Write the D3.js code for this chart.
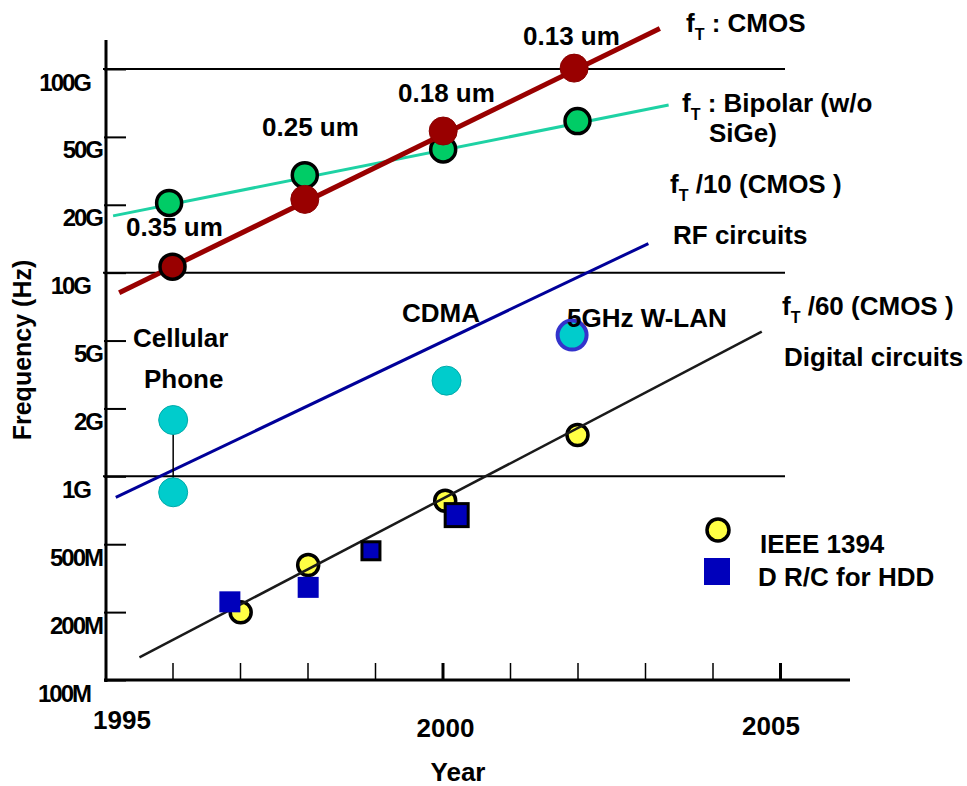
<!DOCTYPE html>
<html>
<head>
<meta charset="utf-8">
<script src="https://cdn.jsdelivr.net/npm/d3@7"></script>
<style>
  body { margin: 0; background: #ffffff; }
  svg text { font-family: "Liberation Sans", Arial, Helvetica, sans-serif; font-weight: bold; fill: #000; }
</style>
</head>
<body>
<svg id="chart" width="967" height="786"></svg>
<script>
// ---------------- DATA ----------------
const yTickLabels = ["100M", "200M", "500M", "1G", "2G", "5G", "10G", "20G", "50G", "100G"];
const gridFreqs = [1e9, 1e10, 1e11];
const xTickYears = [1996, 1997, 1998, 1999, 2000, 2001, 2002, 2003, 2004, 2005];
const xLabelYears = [1995, 2000, 2005];

// fT : CMOS
const cmosNodes = ["0.35 um", "0.25 um", "0.18 um", "0.13 um"];
const cmosYears = [1996.0, 1997.96, 2000.01, 2001.95];
const cmosFt = [10.7e9, 22.9e9, 49.6e9, 101e9];
const cmosTrendYears = [1995.21, 2003.22];
const cmosTrendFt = [7.97e9, 158e9];

// fT : Bipolar (w/o SiGe)
const bipolarYears = [1995.95, 1997.96, 2000.01, 2002.0];
const bipolarFt = [22.0e9, 30.1e9, 40.3e9, 55.5e9];
const bipolarTrendYears = [1995.12, 2003.35];
const bipolarTrendFt = [19.0e9, 66.5e9];

// fT/10 (CMOS) RF circuits
const rfTrendYears = [1995.16, 2003.05];
const rfTrendFreq = [0.788e9, 13.9e9];

// fT/60 (CMOS) Digital circuits
const digitalTrendYears = [1995.51, 2004.73];
const digitalTrendFreq = [0.129e9, 5.13e9];

// IEEE 1394
const ieeeYears = [1997.01, 1998.01, 2000.04, 2002.0];
const ieeeFreq = [0.215e9, 0.367e9, 0.759e9, 1.596e9];

// D R/C for HDD
const hddYears = [1996.85, 1998.01, 1998.94, 2000.21];
const hddFreq = [0.242e9, 0.285e9, 0.431e9, 0.645e9];

// Wireless applications
const cellularYears = [1996.01, 1996.01];
const cellularFreq = [1.89e9, 0.835e9];
const cdmaYear = [2000.06];
const cdmaFreq = [2.95e9];
const wlanYear = [2001.92];
const wlanFreq = [4.94e9];

// ---------------- CHART ----------------
const svg = d3.select("#chart");
const FONT = 26;

const x = d3.scaleLinear().domain([1995, 2005]).range([105, 780]);
const y = d3.scaleLog().domain([1e8, 1e11]).range([680, 69]);

// tick positions: evenly spaced thirds of a decade (as in the original slide)
const yTickVals = yTickLabels.map((d, i) => Math.pow(10, 8 + i / 3));

// gridlines
svg.append("g").selectAll("line").data(gridFreqs).join("line")
  .attr("x1", 103).attr("x2", 785)
  .attr("y1", d => y(d)).attr("y2", d => y(d))
  .attr("stroke", "#000").attr("stroke-width", 2);

// Y axis ticks + labels
const yAxis = d3.axisLeft(y).tickValues(yTickVals).tickSizeInner(-20).tickSizeOuter(0)
  .tickFormat((d, i) => yTickLabels[i]);
const gy = svg.append("g").attr("transform", "translate(106,0)").call(yAxis);
gy.select(".domain").remove();
gy.selectAll(".tick line").attr("stroke", "#000").attr("stroke-width", 2).attr("x1", -2);
gy.selectAll(".tick text")
  .attr("x", (d, i) => (i % 3 === 0 ? -16 : -4))
  .attr("dy", null)
  .attr("y", 21)
  .style("font-size", "24px")
  .style("letter-spacing", "-2px")
  .style("font-family", "'Liberation Sans', Arial, sans-serif")
  .style("font-weight", "bold")
  .attr("fill", "#000");

// X axis ticks
const xAxis = d3.axisBottom(x).tickValues(xTickYears).tickSizeInner(-17).tickSizeOuter(0).tickFormat("");
const gx = svg.append("g").attr("transform", "translate(0,680)").call(xAxis);
gx.select(".domain").remove();
gx.selectAll(".tick line").attr("stroke", "#000")
  .attr("stroke-width", d => (d % 5 === 0 ? 3 : 1.5));

// Axis lines
svg.append("line").attr("x1", 106).attr("x2", 106).attr("y1", 40).attr("y2", 682)
  .attr("stroke", "#000").attr("stroke-width", 3);
svg.append("line").attr("x1", 104).attr("x2", 850).attr("y1", 680).attr("y2", 680)
  .attr("stroke", "#000").attr("stroke-width", 3);

// X labels
const xLabelNudge = { 1995: [17, 49], 2000: [3, 57], 2005: [-9, 55] };
svg.append("g").selectAll("text").data(xLabelYears).join("text")
  .attr("x", d => x(d) + xLabelNudge[d][0])
  .attr("y", d => 680 + xLabelNudge[d][1])
  .attr("text-anchor", "middle")
  .style("font-size", FONT + "px")
  .text(d => d);

// Axis titles
svg.append("text").attr("x", 458).attr("y", 781).attr("text-anchor", "middle")
  .style("font-size", FONT + "px").text("Year");
svg.append("text").attr("transform", "translate(31,350) rotate(-90)").attr("text-anchor", "middle")
  .style("font-size", "25px").text("Frequency (Hz)");

const line = d3.line().x(d => x(d[0])).y(d => y(d[1]));
const zip = (a, b) => a.map((v, i) => [v, b[i]]);

// Trend lines
svg.append("path").datum(zip(bipolarTrendYears, bipolarTrendFt)).attr("d", line)
  .attr("stroke", "#1ed2a4").attr("stroke-width", 3).attr("fill", "none");
svg.append("path").datum(zip(rfTrendYears, rfTrendFreq)).attr("d", line)
  .attr("stroke", "#000099").attr("stroke-width", 3).attr("fill", "none");

// Bipolar circles
svg.append("g").selectAll("circle").data(zip(bipolarYears, bipolarFt)).join("circle")
  .attr("cx", d => x(d[0])).attr("cy", d => y(d[1])).attr("r", 12.5)
  .attr("fill", "#00cc66").attr("stroke", "#000").attr("stroke-width", 3.5);

svg.append("path").datum(zip(cmosTrendYears, cmosTrendFt)).attr("d", line)
  .attr("stroke", "#990000").attr("stroke-width", 5).attr("fill", "none");

// CMOS circles
svg.append("g").selectAll("circle").data(zip(cmosYears, cmosFt)).join("circle")
  .attr("cx", d => x(d[0])).attr("cy", d => y(d[1]))
  .attr("r", (d, i) => (i === 0 ? 12.5 : 14))
  .attr("fill", "#990000")
  .attr("stroke", (d, i) => (i === 0 ? "#000" : "#8a0000"))
  .attr("stroke-width", (d, i) => (i === 0 ? 3.5 : 1));

// CMOS node labels
const nodeLabelPos = [[126, 236], [262, 136], [398, 102], [523, 45]];
svg.append("g").selectAll("text").data(cmosNodes).join("text")
  .attr("x", (d, i) => nodeLabelPos[i][0]).attr("y", (d, i) => nodeLabelPos[i][1])
  .style("font-size", FONT + "px").text(d => d);

// Cellular connector + wireless circles
svg.append("line")
  .attr("x1", x(cellularYears[0])).attr("x2", x(cellularYears[1]))
  .attr("y1", y(cellularFreq[0])).attr("y2", y(cellularFreq[1]))
  .attr("stroke", "#000").attr("stroke-width", 1.5);
svg.append("g").selectAll("circle").data(zip(cellularYears, cellularFreq).concat(zip(cdmaYear, cdmaFreq))).join("circle")
  .attr("cx", d => x(d[0])).attr("cy", d => y(d[1])).attr("r", 14.5)
  .attr("fill", "#00cccc").attr("stroke", "#00aaaa").attr("stroke-width", 1);
svg.append("g").selectAll("circle").data(zip(wlanYear, wlanFreq)).join("circle")
  .attr("cx", d => x(d[0])).attr("cy", d => y(d[1])).attr("r", 14.5)
  .attr("fill", "#00cccc").attr("stroke", "#3333cc").attr("stroke-width", 4);

// IEEE 1394 circles
svg.append("g").selectAll("circle").data(zip(ieeeYears, ieeeFreq)).join("circle")
  .attr("cx", d => x(d[0])).attr("cy", d => y(d[1])).attr("r", 10.5)
  .attr("fill", "#ffff44").attr("stroke", "#000").attr("stroke-width", 3.5);

// Digital trend line
svg.append("path").datum(zip(digitalTrendYears, digitalTrendFreq)).attr("d", line)
  .attr("stroke", "#1a1a1a").attr("stroke-width", 2.5).attr("fill", "none");

// HDD squares
const hddSize = [21, 21, 18, 23];
const hddOutlined = [false, false, true, true];
svg.append("g").selectAll("rect").data(zip(hddYears, hddFreq)).join("rect")
  .attr("x", (d, i) => x(d[0]) - hddSize[i] / 2).attr("y", (d, i) => y(d[1]) - hddSize[i] / 2)
  .attr("width", (d, i) => hddSize[i]).attr("height", (d, i) => hddSize[i])
  .attr("fill", "#0000bb")
  .attr("stroke", (d, i) => (hddOutlined[i] ? "#000" : "none"))
  .attr("stroke-width", 3);

// Annotation text
function fLabel(xp, yp, rest) {
  const t = svg.append("text").attr("x", xp).attr("y", yp).style("font-size", FONT + "px");
  t.append("tspan").text("f");
  t.append("tspan").attr("dy", 8).style("font-size", "16px").text("T");
  t.append("tspan").attr("dy", -8).text(rest);
  return t;
}
function plain(xp, yp, s) {
  return svg.append("text").attr("x", xp).attr("y", yp).style("font-size", FONT + "px").text(s);
}
fLabel(686, 32, " : CMOS");
fLabel(682, 112, " : Bipolar (w/o");
plain(709, 142, "SiGe)");
fLabel(670, 193, " /10 (CMOS )");
plain(673, 244, "RF circuits");
fLabel(782, 315, " /60 (CMOS )");
plain(784, 366, "Digital circuits");
plain(567, 327, "5GHz W-LAN");
plain(402, 322, "CDMA");
plain(133, 347, "Cellular");
plain(144, 388, "Phone");

// Legend
svg.append("circle").attr("cx", 718).attr("cy", 530).attr("r", 11)
  .attr("fill", "#ffff44").attr("stroke", "#000").attr("stroke-width", 3.5);
svg.append("rect").attr("x", 704).attr("y", 558).attr("width", 26).attr("height", 27)
  .attr("fill", "#0000bb");
plain(760, 553, "IEEE 1394");
plain(758, 586, "D R/C for HDD");
</script>
</body>
</html>
